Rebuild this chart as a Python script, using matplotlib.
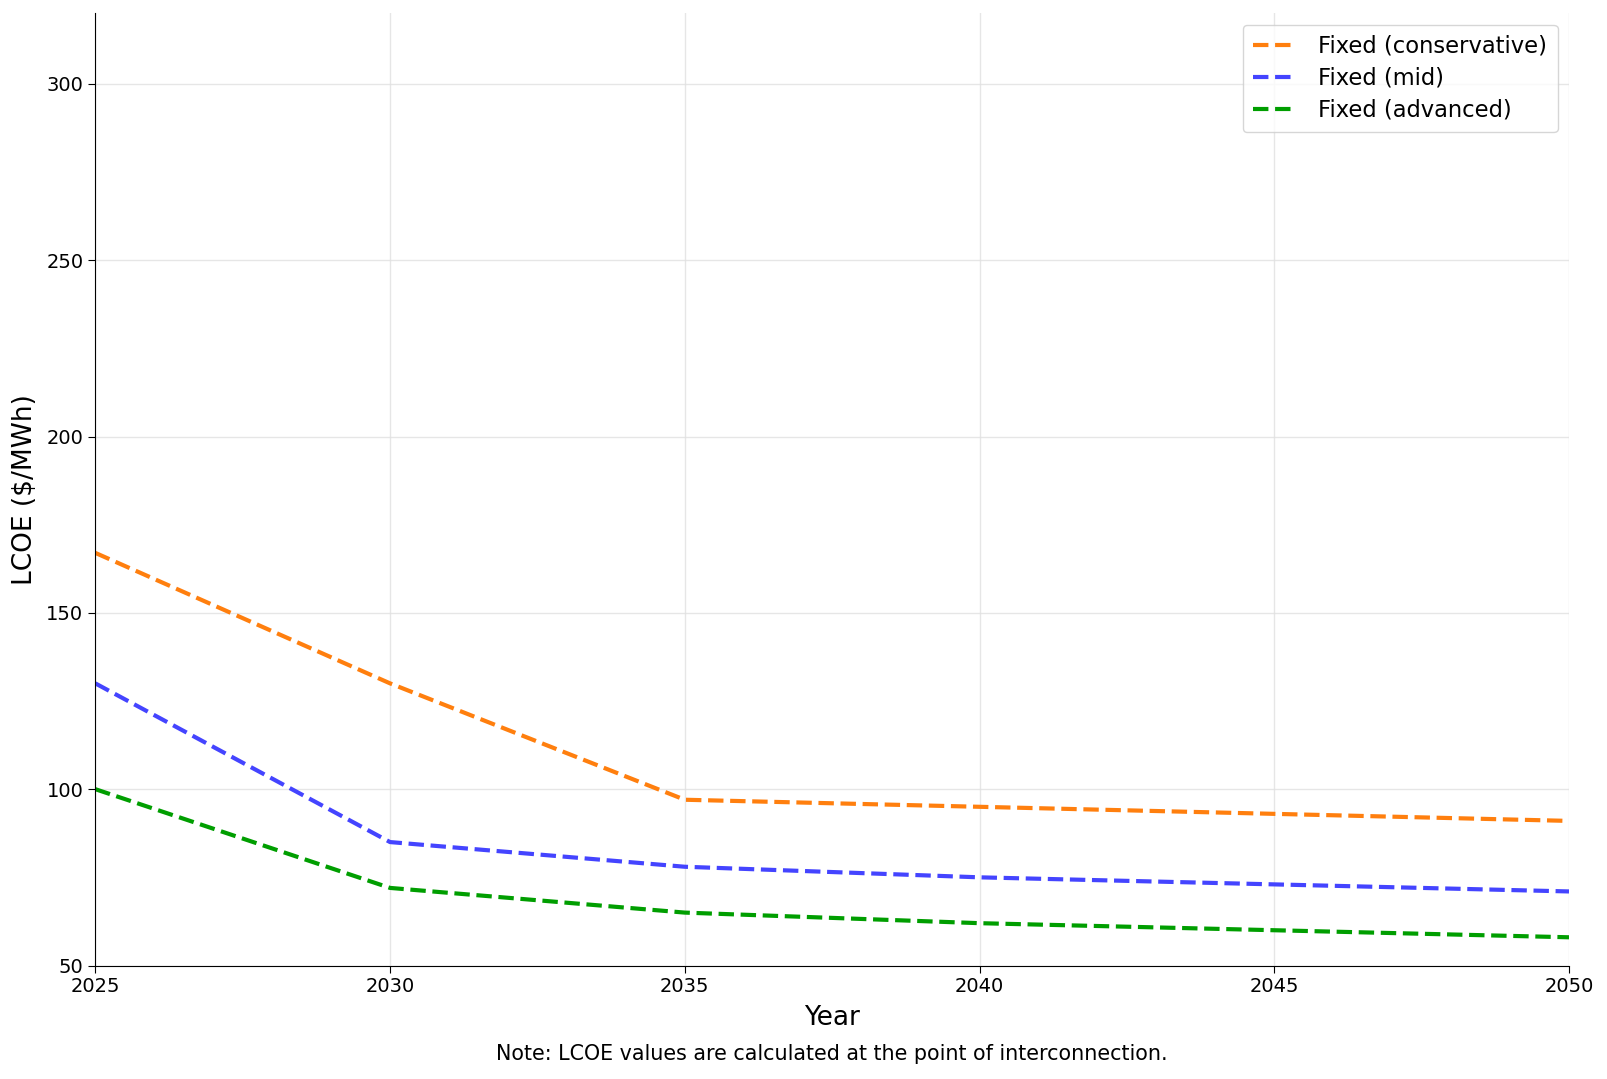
import matplotlib
matplotlib.use("Agg")
import matplotlib.pyplot as plt

years = [2025, 2030, 2035, 2040, 2045, 2050]
conservative = [167, 130, 97, 95, 93, 91]
mid = [130, 85, 78, 75, 73, 71]
advanced = [100, 72, 65, 62, 60, 58]
labels = ["Fixed (conservative)", "Fixed (mid)", "Fixed (advanced)"]
colors = ["#ff7f0e", "#4444ff", "#009e00"]
yticks = [50, 100, 150, 200, 250, 300]

fig = plt.figure(figsize=(16.07, 10.79), dpi=100)
ax = fig.add_axes([95.3 / 1607, 1 - 965.5 / 1079, (1569 - 95.3) / 1607, (965.5 - 13.3) / 1079])

for vals, lab, col in zip([conservative, mid, advanced], labels, colors):
    ax.plot(years, vals, linestyle="--", color=col, linewidth=3, label=lab)

ax.set_xlim(2025, 2050)
ax.set_ylim(50, 320)
ax.set_xticks(years)
ax.set_yticks(yticks)
ax.tick_params(labelsize=14, length=5)
ax.grid(True, color="#e0e0e0", linewidth=1, alpha=0.8)
ax.spines["top"].set_visible(False)
ax.spines["right"].set_visible(False)
ax.set_xlabel("Year", fontsize=19, labelpad=6)
ax.set_ylabel("LCOE ($/MWh)", fontsize=19, labelpad=6)
ax.legend(loc="upper right", fontsize=16.3, frameon=True, edgecolor="#cccccc", handlelength=1.8,
          handletextpad=1.1, borderpad=0.45, labelspacing=0.4)
ax.annotate("Note: LCOE values are calculated at the point of interconnection.",
            xy=(0.5, 0), xycoords="axes fraction", xytext=(0, -64), textcoords="offset points",
            ha="center", va="center", fontsize=14.9)

fig.savefig("out.png", dpi=100)
